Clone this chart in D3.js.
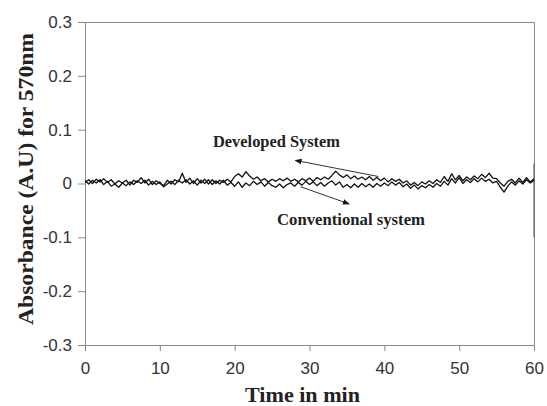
<!DOCTYPE html>
<html>
<head>
<meta charset="utf-8">
<script src="https://d3js.org/d3.v7.min.js"></script>
<style>
    body { margin: 0; background: #fff; }
</style>
</head>
<body>
<script>
//time axis, one reading every half minute
var times = d3.range(0, 60.5, 0.5);

//absorbance readings
var developed = [
    0.002, 0.007, 0.000, 0.008, 0.003, 0.009, 0.002, 0.007, -0.001, 0.005,
    0.001, 0.006, -0.003, 0.006, 0.002, 0.011, 0.001, 0.008, -0.002, 0.005,
    0.000, -0.004, 0.006, -0.001, 0.007, 0.003, 0.019, 0.002, 0.010, 0.000,
    0.009, 0.001, 0.008, -0.001, 0.007, 0.000, 0.006, 0.002, 0.008, 0.003,
    0.013, 0.018, 0.012, 0.022, 0.014, 0.008, 0.012, 0.005, 0.009, 0.003,
    0.008, 0.004, 0.009, 0.005, 0.010, 0.004, 0.008, 0.003, 0.009, 0.005,
    0.010, 0.004, 0.011, 0.007, 0.012, 0.008, 0.015, 0.023, 0.016, 0.011,
    0.016, 0.009, 0.014, 0.008, 0.012, 0.007, 0.013, 0.006, 0.011, 0.005,
    0.010, 0.003, 0.009, 0.004, 0.008, 0.001, 0.005, -0.003, 0.002, -0.004,
    0.003, -0.001, 0.005, 0.000, 0.007, 0.002, 0.013, 0.004, 0.018, 0.007,
    0.015, 0.005, 0.012, 0.007, 0.014, 0.009, 0.017, 0.011, 0.019, 0.010,
    0.009, 0.001, -0.005, 0.004, 0.008, 0.001, 0.010, 0.002, 0.011, 0.003,
    0.009
];

var conventional = [
    0.005, -0.001, 0.006, 0.001, 0.007, -0.002, 0.004, -0.005, -0.001, -0.007,
    0.001, -0.004, 0.003, -0.002, 0.005, 0.000, 0.006, -0.003, 0.004, -0.002,
    0.003, -0.006, -0.001, 0.004, -0.002, 0.006, 0.001, 0.007, -0.001, 0.005,
    -0.003, 0.006, 0.000, 0.007, -0.002, 0.005, -0.001, 0.006, -0.003, 0.002,
    -0.005, 0.003, -0.007, 0.001, -0.004, 0.004, -0.002, 0.003, -0.005, 0.002,
    -0.004, -0.007, -0.001, -0.008, -0.002, 0.001, -0.005, 0.002, -0.003, 0.004,
    -0.002, 0.003, -0.004, 0.002, -0.005, 0.001, 0.005, -0.003, 0.003, -0.007,
    -0.002, -0.008, -0.001, -0.007, 0.000, -0.006, -0.001, -0.007, 0.000, -0.005,
    0.001, -0.004, 0.003, -0.003, 0.002, -0.006, -0.001, -0.009, -0.003, -0.010,
    -0.004, -0.008, -0.002, -0.007, 0.000, -0.005, 0.004, -0.003, 0.009, 0.001,
    0.011, 0.000, 0.007, 0.002, 0.009, 0.003, 0.010, 0.004, 0.008, 0.001,
    0.004, -0.007, -0.016, -0.005, 0.003, -0.003, 0.005, -0.001, 0.007, 0.001,
    0.006
];

//tick values
var xTicks = [0, 10, 20, 30, 40, 50, 60];
var yTicks = [-0.3, -0.2, -0.1, 0, 0.1, 0.2, 0.3];

//annotation labels
var labels = ["Developed System", "Conventional system"];

setChart();

function setChart(){

    //frame dimensions
    var width = 547,
        height = 406;

    var svg = d3.select("body")
        .append("svg")
        .attr("width", width)
        .attr("height", height);

    //plot area
    var left = 85, right = 534, top = 22, bottom = 345;

    var x = d3.scaleLinear()
        .domain([0, 60])
        .range([left, right]);

    var y = d3.scaleLinear()
        .domain([-0.3, 0.3])
        .range([bottom, top]);

    var axisColor = "#8a8a8a";
    var serif = "'Liberation Serif', 'Times New Roman', serif";

    //box top and right edge
    svg.append("path")
        .attr("d", "M" + left + "," + (top + 0.5) + "H" + (right + 0.5) + "V" + bottom)
        .attr("fill", "none")
        .attr("stroke", axisColor);

    //darker segment on the right edge
    svg.append("line")
        .attr("x1", right).attr("x2", right)
        .attr("y1", y(0.037)).attr("y2", y(-0.1))
        .attr("stroke", "#666")
        .attr("stroke-width", 1.2);

    //x axis
    var xAxis = svg.append("g")
        .attr("transform", "translate(0," + bottom + ")")
        .call(d3.axisBottom(x).tickValues(xTicks).tickSize(6).tickPadding(11));

    //y axis, plain hyphen for negatives
    var yAxis = svg.append("g")
        .attr("transform", "translate(" + left + ",0)")
        .call(d3.axisLeft(y).tickValues(yTicks).tickSize(7).tickPadding(6)
            .tickFormat(function(d){
                return d === 0 ? "0" : d3.format(".1f")(d).replace("\u2212", "-");
            }));

    [xAxis, yAxis].forEach(function(g){
        g.select(".domain").attr("stroke", axisColor);
        g.selectAll(".tick line").attr("stroke", axisColor);
        g.selectAll(".tick text")
            .attr("fill", "#333")
            .style("font-family", "'Liberation Sans', Arial, sans-serif")
            .style("font-size", "17px");
    });

    //data lines
    var line = d3.line()
        .x(function(d, i){ return x(times[i]); })
        .y(function(d){ return y(d); });

    [developed, conventional].forEach(function(series){
        svg.append("path")
            .datum(series)
            .attr("fill", "none")
            .attr("stroke", "#111")
            .attr("stroke-width", 1.3)
            .attr("stroke-linejoin", "round")
            .attr("d", line);
    });

    //axis titles
    svg.append("text")
        .attr("x", 245)
        .attr("y", 402)
        .attr("textLength", 115)
        .attr("lengthAdjust", "spacingAndGlyphs")
        .style("font-family", serif)
        .style("font-weight", "bold")
        .style("font-size", "20px")
        .attr("fill", "#222")
        .text("Time in min");

    svg.append("text")
        .attr("transform", "translate(33,325) rotate(-90)")
        .attr("textLength", 292)
        .attr("lengthAdjust", "spacingAndGlyphs")
        .style("font-family", serif)
        .style("font-weight", "bold")
        .style("font-size", "21px")
        .attr("fill", "#222")
        .text("Absorbance (A.U) for 570nm");

    //arrow head marker
    svg.append("defs").append("marker")
        .attr("id", "head")
        .attr("viewBox", "0 0 10 10")
        .attr("refX", 9).attr("refY", 5)
        .attr("markerWidth", 7).attr("markerHeight", 7)
        .attr("orient", "auto")
        .append("path")
        .attr("d", "M0,1L10,5L0,9Z")
        .attr("fill", "#111");

    //annotations
    svg.append("text")
        .attr("x", 213)
        .attr("y", 147)
        .attr("textLength", 127)
        .attr("lengthAdjust", "spacingAndGlyphs")
        .style("font-family", serif)
        .style("font-weight", "bold")
        .style("font-size", "16px")
        .attr("fill", "#222")
        .text(labels[0]);

    svg.append("line")
        .attr("x1", x(39.2)).attr("y1", y(0.013))
        .attr("x2", x(28.1)).attr("y2", y(0.043))
        .attr("stroke", "#333")
        .attr("stroke-width", 1)
        .attr("marker-end", "url(#head)");

    svg.append("text")
        .attr("x", 277)
        .attr("y", 225)
        .attr("textLength", 148)
        .attr("lengthAdjust", "spacingAndGlyphs")
        .style("font-family", serif)
        .style("font-weight", "bold")
        .style("font-size", "16.5px")
        .attr("fill", "#222")
        .text(labels[1]);

    svg.append("line")
        .attr("x1", x(28.8)).attr("y1", y(-0.006))
        .attr("x2", x(35.3)).attr("y2", y(-0.038))
        .attr("stroke", "#333")
        .attr("stroke-width", 1)
        .attr("marker-end", "url(#head)");
}
</script>
</body>
</html>
